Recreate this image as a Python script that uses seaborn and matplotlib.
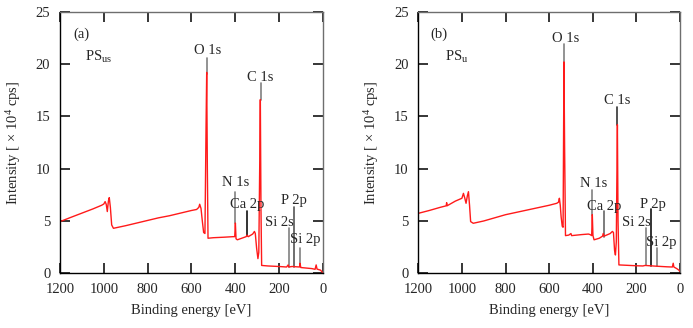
import matplotlib
matplotlib.use("Agg")
import matplotlib.pyplot as plt
import seaborn as sns
import pandas as pd

# XPS survey spectra: binding energy [eV] and intensity [x10^4 cps]
energy_a = [1200, 1150, 1100, 1050, 1010, 1000, 994, 989, 984, 979, 975, 970, 964, 956,
            900, 850, 800, 750, 700, 650, 600, 576, 566, 562, 556, 550, 544, 538, 533, 530,
            527, 524, 500, 450, 410, 402, 399, 396, 390, 370, 350, 346, 340, 320, 312, 308,
            302, 296, 292, 288, 285, 282, 279, 250, 200, 165, 158, 155, 140, 106, 104, 100,
            50, 35, 30, 26, 10, 0]
counts_a = [4.94, 5.35, 5.75, 6.15, 6.5, 6.62, 6.85, 6.6, 5.9, 6.9, 7.23, 6.3, 4.62, 4.3,
            4.55, 4.8, 5.05, 5.3, 5.5, 5.75, 6.0, 6.1, 6.3, 6.6, 6.2, 5.0, 3.9, 3.8, 14.0, 19.2,
            10.0, 3.35, 3.4, 3.45, 3.5, 3.5, 4.8, 3.3, 3.2, 3.35, 3.5, 3.65, 3.5, 3.75, 4.0, 3.8,
            2.4, 1.4, 2.0, 10.0, 16.6, 6.0, 0.75, 0.7, 0.65, 0.6, 0.8, 0.6, 0.65, 0.6, 0.95, 0.55,
            0.45, 0.38, 0.8, 0.4, 0.3, 0.06]

energy_b = [1200, 1150, 1100, 1072, 1070, 1068, 1030, 1000, 993, 987, 981, 975, 970, 965,
            960, 948, 900, 800, 700, 600, 565, 557, 553, 549, 545, 540, 536, 532, 529, 525,
            510, 500, 497, 450, 420, 412, 405, 402, 399, 394, 370, 355, 352, 348, 320, 310,
            305, 300, 296, 292, 289, 287, 284, 280, 200, 170, 160, 110, 60, 35, 31, 28, 15, 5, 0]
counts_b = [5.73, 6.0, 6.3, 6.45, 6.75, 6.45, 6.9, 7.17, 7.64, 7.2, 6.69, 7.4, 7.8, 6.5,
            4.94, 4.78, 5.0, 5.6, 6.05, 6.5, 6.69, 6.8, 7.17, 6.5, 5.4, 4.5, 4.4, 20.2, 12.0, 3.6,
            3.65, 3.8, 3.6, 3.7, 3.75, 3.7, 3.6, 5.6, 3.6, 3.2, 3.35, 3.55, 3.8, 3.55, 3.8, 4.0,
            3.9, 2.2, 1.75, 3.0, 10.0, 14.2, 5.0, 0.8, 0.72, 0.7, 0.75, 0.68, 0.62, 0.6, 0.96, 0.6,
            0.45, 0.3, 0.16]

# Peak assignments
peak_names = ["O 1s", "C 1s", "N 1s", "Ca 2p", "Si 2s", "P 2p", "Si 2p"]
peak_energy_a = [530, 284, 399, 347, 156, 133, 103]
peak_base_a = [19.0, 16.6, 4.8, 3.6, 0.64, 0.64, 0.8]
peak_top_a = [20.6, 18.2, 7.8, 6.0, 4.3, 6.37, 2.4]
peak_energy_b = [533, 287, 403, 348, 156, 134, 105]
peak_base_b = [20.2, 14.2, 5.6, 3.5, 0.75, 0.72, 0.7]
peak_top_b = [21.9, 15.9, 8.0, 5.96, 4.36, 6.1, 2.45]

# label anchor points (energy, intensity) for each peak name
label_pos_a = [(528, 21.3), (285, 18.7), (398, 8.66), (345, 6.6), (198, 4.84), (133, 7.0), (79, 3.2)]
label_pos_b = [(526, 22.4), (287, 16.5), (396, 8.6), (347, 6.43), (198, 4.84), (122, 6.6), (87, 2.93)]
marker_color_a = ["#808080", "#808080", "#808080", "#111111", "#808080", "#555555", "#808080"]
marker_color_b = ["#808080", "#333333", "#808080", "#666666", "#808080", "#111111", "#808080"]

sns.set_style("ticks")
plt.rcParams.update({
    "font.family": ["Liberation Serif", "DejaVu Serif"],
    "mathtext.fontset": "custom",
    "mathtext.rm": "Liberation Serif",
    "mathtext.it": "Liberation Serif:italic",
    "font.size": 10.5,
})

GRAY = "#6e6e6e"

fig = plt.figure(figsize=(6.93, 3.28), dpi=100)
ax_a = fig.add_axes([0.0866, 0.1668, 0.3791, 0.7975])
ax_b = fig.add_axes([0.6036, 0.1668, 0.3776, 0.7975])

panels = [
    (ax_a, energy_a, counts_a, peak_energy_a, peak_base_a, peak_top_a, label_pos_a,
     marker_color_a, "(a)", r"PS$_{\mathrm{us}}$"),
    (ax_b, energy_b, counts_b, peak_energy_b, peak_base_b, peak_top_b, label_pos_b,
     marker_color_b, "(b)", r"PS$_{\mathrm{u}}$"),
]

for ax, e, c, pe, pb, pt, lp, mc, tag, name in panels:
    df = pd.DataFrame({"energy": e, "counts": c})
    sns.lineplot(data=df, x="energy", y="counts", ax=ax, color="#ff1a1a", lw=1.0,
                 sort=False)
    for lbl, x0, y0, y1, (tx, ty), col in zip(peak_names, pe, pb, pt, lp, mc):
        ax.plot([x0, x0], [y0, y1], color=col, lw=1.2, zorder=1)
        ax.text(tx, ty, lbl, ha="center", va="center", fontsize=10.5)
    ax.text(1104, 22.8, tag, ha="center", va="center", fontsize=10.5)
    ax.text(1025, 20.7, name, ha="center", va="center", fontsize=10.5)

    ax.set_xlim(1200, 0)
    ax.set_ylim(0, 25)
    ax.set_xticks([1200, 1000, 800, 600, 400, 200, 0])
    ax.set_yticks([0, 5, 10, 15, 20, 25])
    ax.tick_params(direction="in", length=7.5, width=1.1, color="black",
                   top=True, right=True, labelsize=10.5, pad=7)
    for tk in ax.xaxis.get_major_ticks() + ax.yaxis.get_major_ticks():
        tk.tick2line.set_color(GRAY)
    for side, col in [("left", "black"), ("bottom", "black"),
                      ("top", GRAY), ("right", GRAY)]:
        ax.spines[side].set_linewidth(1.0)
        ax.spines[side].set_color(col)
    ax.set_xlabel("Binding energy [eV]", fontsize=10.5, labelpad=6)
    ax.set_ylabel("Intensity [ \u00d7 10$^4$ cps]", fontsize=10.5, labelpad=9)

fig.savefig("out.png", dpi=100)
